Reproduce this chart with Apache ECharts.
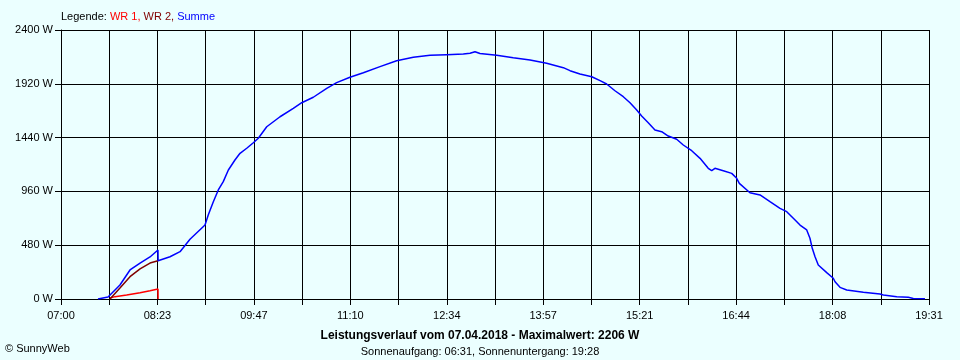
<!DOCTYPE html>
<html>
<head>
<meta charset="utf-8">
<script src="https://cdn.jsdelivr.net/npm/echarts@6/dist/echarts.min.js"></script>
<style>
html,body{margin:0;padding:0;background:#EBFFFF;}
#c{width:960px;height:360px;}
</style>
</head>
<body>
<div id="c"></div>
<script>
// minutes after 07:00
const startMinutes = 420;
const spanMinutes = 751;
const yTicks = [0, 480, 960, 1440, 1920, 2400];

const summeTime = [32.0,40.7,51.0,59.7,68.4,77.0,83.9,84.0,94.3,103.0,111.6,124.6,127.4,131.8,136.1,140.4,144.8,150.5,154.9,160.7,166.4,170.7,178.0,189.5,201.0,208.3,218.3,229.9,238.5,250.0,261.6,276.0,290.4,304.8,319.3,333.7,348.1,353.9,358.2,362.5,377.0,391.3,405.8,420.2,434.6,440.4,449.0,459.2,466.4,472.1,479.3,486.5,492.3,498.1,502.4,508.1,513.9,519.7,525.4,532.7,538.4,545.7,552.9,560.0,563.0,565.8,573.0,580.3,584.6,586.9,596.1,604.8,613.4,622.1,627.9,633.6,639.4,645.2,648.0,650.0,652.4,655.2,662.5,668.2,669.7,674.0,679.8,694.2,708.6,711.5,723.1,733.1,737.4,747.5];
const summeW = [0,18,125,259,321,375,437,342,377,422,533,660,749,868,973,1047,1151,1240,1300,1345,1394,1434,1537,1626,1701,1751,1800,1880,1930,1978,2019,2073,2126,2156,2174,2180,2186,2192,2206,2190,2174,2153,2132,2103,2064,2037,2007,1983,1948,1918,1858,1805,1751,1686,1633,1573,1508,1493,1454,1425,1374,1323,1255,1166,1145,1166,1145,1121,1077,1032,948,928,868,809,779,720,660,616,542,452,377,303,235,185,154,104,80,60,45,36,21,15,5,2];

const wr1Time = [42.4,46.7,56.8,68.4,77.0,83.9,84.0];
const wr1W = [9,21,36,56,74,89,0];

const wr2Time = [42.4,43.9,51.0,59.7,68.4,77.0,83.9];
const wr2W = [0,9,98,199,268,321,342];

const font = '"Liberation Sans", Arial, sans-serif';
const step = spanMinutes / 18;

function pairs(t, v) { return t.map((x, i) => [x, v[i]]); }

const chart = echarts.init(document.getElementById('c'), null, {renderer: 'canvas'});
chart.setOption({
  backgroundColor: '#EBFFFF',
  animation: false,
  grid: {left: 61, right: 31, top: 30, bottom: 61, containLabel: false},
  xAxis: {
    type: 'value', min: 0, max: spanMinutes, interval: step,
    axisLine: {show: true, lineStyle: {color: '#000', width: 1}},
    axisTick: {show: true, length: 6, lineStyle: {color: '#000', width: 1}},
    splitLine: {show: true, lineStyle: {color: '#000', width: 1}},
    axisLabel: {
      color: '#000', fontFamily: font, fontSize: 11, margin: 11, showMaxLabel: true, showMinLabel: true,
      formatter: function (v) {
        const k = Math.round(v / step);
        if (k % 2) return '';
        const m = startMinutes + Math.round(v);
        const hh = Math.floor(m / 60), mm = m % 60;
        return (hh < 10 ? '0' : '') + hh + ':' + (mm < 10 ? '0' : '') + mm;
      }
    }
  },
  yAxis: {
    type: 'value', min: yTicks[0], max: yTicks[yTicks.length - 1], interval: yTicks[1] - yTicks[0],
    axisLine: {show: true, lineStyle: {color: '#000', width: 1}},
    axisTick: {show: true, length: 6, lineStyle: {color: '#000', width: 1}},
    splitLine: {show: true, lineStyle: {color: '#000', width: 1}},
    axisLabel: {color: '#000', fontFamily: font, fontSize: 11, margin: 8, formatter: function (v) { return String(Math.round(v)) + ' W'; }}
  },
  graphic: [
    {type: 'text', left: 61, top: 11, style: {
      text: 'Legende: {r|WR 1,} {d|WR 2,} {b|Summe}',
      font: '11px ' + font, fill: '#000',
      rich: {r: {fill: '#FF0000', font: '11px ' + font}, d: {fill: '#800000', font: '11px ' + font}, b: {fill: '#0000FF', font: '11px ' + font}}
    }},
    {type: 'text', left: 'center', top: 330, style: {text: 'Leistungsverlauf vom 07.04.2018 - Maximalwert: 2206 W', font: 'bold 12px ' + font, fill: '#000'}},
    {type: 'text', left: 'center', top: 346, style: {text: 'Sonnenaufgang: 06:31, Sonnenuntergang: 19:28', font: '11px ' + font, fill: '#000'}},
    {type: 'text', left: 5, top: 343, style: {text: '© SunnyWeb', font: '11px ' + font, fill: '#000'}}
  ],
  series: [
    {name: 'WR 1', type: 'line', data: pairs(wr1Time, wr1W), showSymbol: false, lineStyle: {color: '#FF0000', width: 1.5}, z: 3},
    {name: 'WR 2', type: 'line', data: pairs(wr2Time, wr2W), showSymbol: false, lineStyle: {color: '#800000', width: 1.5}, z: 4},
    {name: 'Summe', type: 'line', data: pairs(summeTime, summeW), showSymbol: false, lineStyle: {color: '#0000FF', width: 1.5}, z: 5}
  ]
});
</script>
</body>
</html>
